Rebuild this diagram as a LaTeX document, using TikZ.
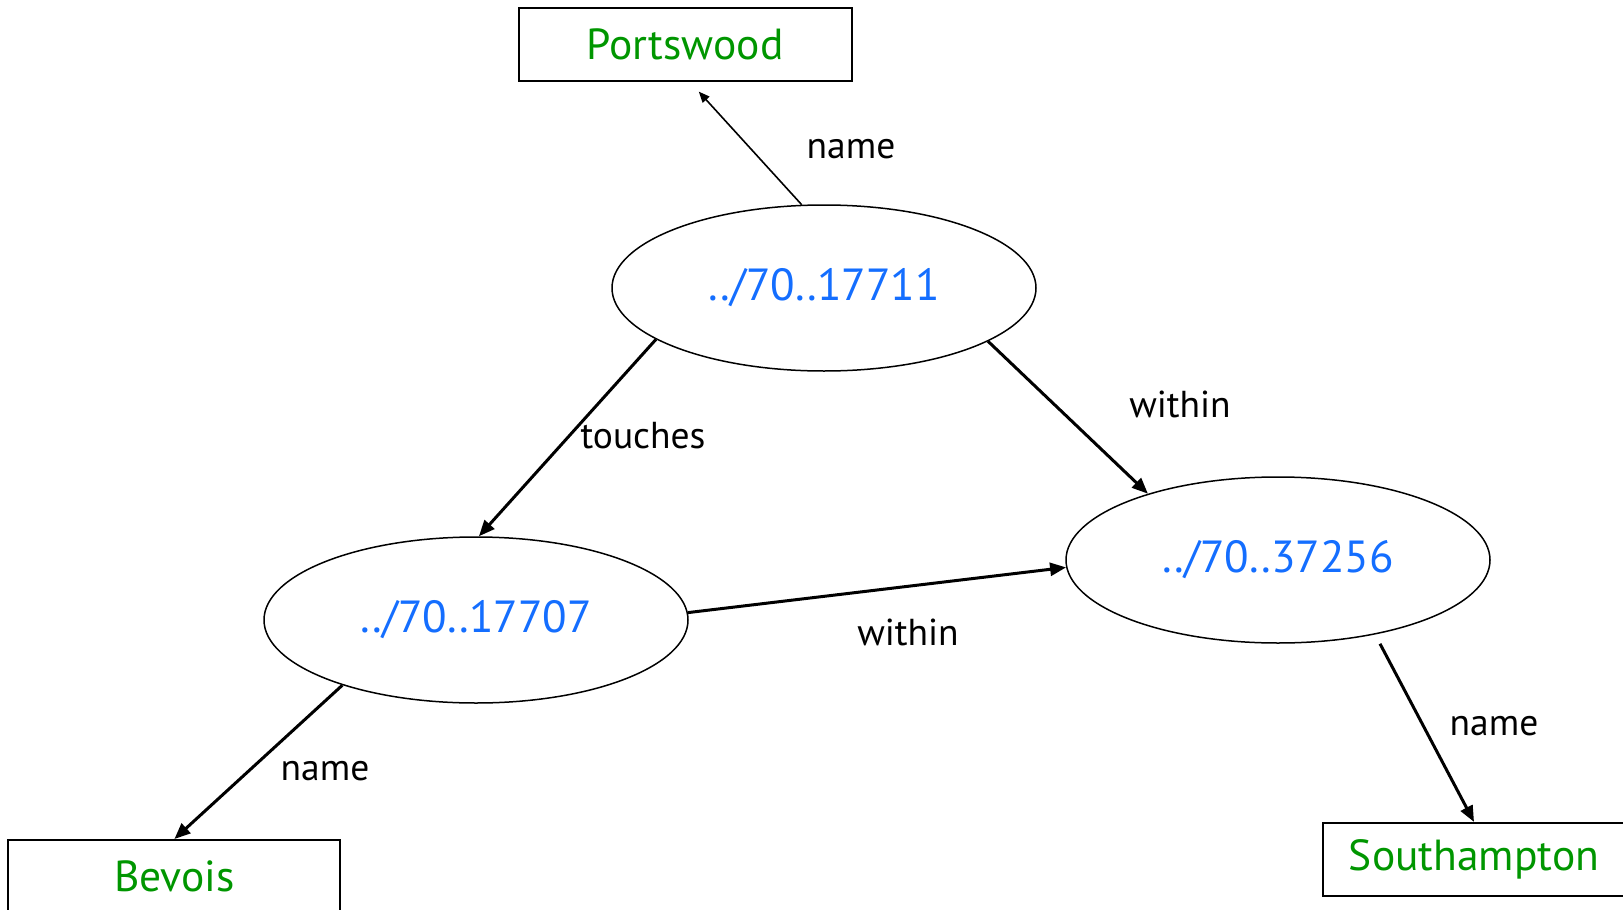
\documentclass[tikz,border=0pt]{standalone}
\usepackage{fontspec}
\setmainfont{PT Sans}
\usetikzlibrary{shapes.geometric,arrows.meta}
\definecolor{lgreen}{RGB}{0,150,0}
\definecolor{lblue}{RGB}{20,110,255}
\tikzset{
  res/.style={ellipse,draw,line width=1.5pt,minimum width=424pt,minimum height=166pt,inner sep=0pt,text=lblue,font=\fontsize{45}{45}\selectfont},
  lit/.style={rectangle,draw,line width=2pt,minimum height=73pt,inner sep=0pt,text=lgreen,font=\fontsize{43.5}{43.5}\selectfont},
  lab/.style={anchor=base,font=\fontsize{37.5}{37.5}\selectfont},
  thickarrow/.style={line width=3pt,-{Triangle[length=16pt,width=13pt]}},
  thinarrow/.style={line width=1.6pt,-{Triangle[length=11pt,width=9pt]}}
}
\begin{document}
\begin{tikzpicture}[x=1pt,y=-1pt]
\clip (0,0) rectangle (1623,910);
\fill[white] (0,0) rectangle (1623,910);
\node[lit,minimum width=333pt] (pw) at (685,44.5) {Portswood};
\node[lit,minimum width=332pt] (bv) at (174.4,876.5) {Bevois};
\node[lit,minimum width=302pt] (sh) at (1474,859.4) {Southampton};
\node[res] (e1) at (824,288) {../70..17711};
\node[res] (e2) at (476,620) {../70..17707};
\node[res] (e3) at (1278,560) {../70..37256};
\draw[thinarrow,shorten >=13pt] (e1.105) -- ([xshift=5pt]pw.south);
\draw[thickarrow] (e1.197) -- (e2.88);
\draw[thickarrow] (e1.342) -- (e3.153);
\draw[thickarrow] (e2.2) -- (e3.182);
\draw[thickarrow] (e2.206.6) -- (bv.north);
\draw[thickarrow] ([xshift=102pt]e3.south) -- (sh.north);
\node[lab] (l1) at (851,158.4) {name};
\node[lab] (l2) at (643,448) {touches};
\node[lab] (l3) at (1180,417) {within};
\node[lab] (l4) at (908,645) {within};
\node[lab] (l5) at (325,780.5) {name};
\node[lab] (l6) at (1494,735) {name};
\end{tikzpicture}
\end{document}
